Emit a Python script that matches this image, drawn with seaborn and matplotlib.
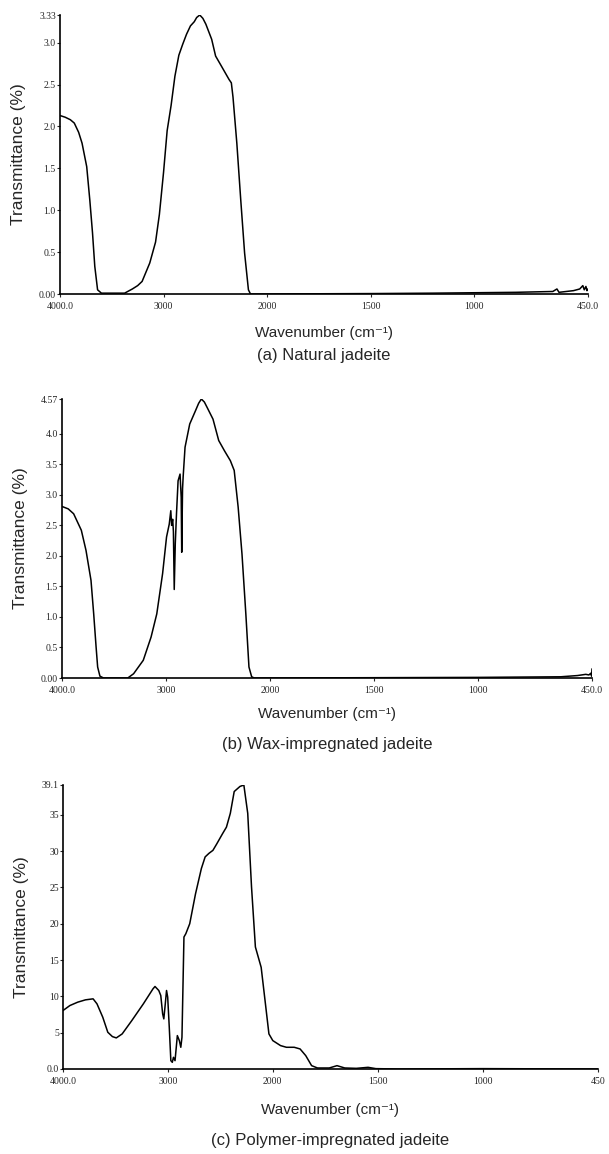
import numpy as np
import pandas as pd
import matplotlib
matplotlib.use("Agg")
import matplotlib.pyplot as plt
import seaborn as sns

# (a) Natural jadeite - wavenumber (cm-1) and transmittance (%)
wn_a = [4000, 3950, 3900, 3862, 3820, 3787, 3742, 3712, 3686, 3664, 3637, 3600,
        3376, 3301, 3250, 3207, 3133, 3077, 3040, 3000, 2965, 2927, 2890, 2852,
        2815, 2778, 2740, 2703, 2680, 2650, 2620, 2591, 2535, 2497, 2441, 2367,
        2345, 2329, 2292, 2254, 2217, 2180, 2160,
        2100, 1500, 1200, 1000, 800, 620, 600, 590, 520, 490, 475, 468, 460, 455, 450]
tr_a = [2.13, 2.11, 2.08, 2.04, 1.93, 1.80, 1.52, 1.12, 0.73, 0.33, 0.05, 0.01,
        0.01, 0.06, 0.10, 0.15, 0.37, 0.62, 0.95, 1.45, 1.95, 2.25, 2.60, 2.85,
        2.98, 3.10, 3.20, 3.25, 3.30, 3.33, 3.29, 3.22, 3.04, 2.84, 2.72, 2.56,
        2.52, 2.35, 1.80, 1.12, 0.49, 0.05, 0.0,
        0.0, 0.005, 0.01, 0.015, 0.02, 0.03, 0.06, 0.02, 0.04, 0.06, 0.10, 0.05, 0.09, 0.04, 0.06]

# (b) Wax-impregnated jadeite
wn_b = [4000, 3940, 3888, 3814, 3769, 3721, 3695, 3672, 3657, 3635, 3600, 3367,
        3311, 3218, 3143, 3088, 3032, 2994, 2968, 2953, 2945, 2935, 2928, 2920,
        2910, 2898, 2883, 2864, 2853, 2848, 2840, 2834, 2816, 2771, 2715, 2685,
        2659, 2630, 2603, 2547, 2492, 2436, 2380, 2343, 2305, 2268, 2231, 2201,
        2175, 2150, 1500, 1000, 600, 520, 480, 465, 455, 452, 450]
tr_b = [2.81, 2.77, 2.69, 2.42, 2.09, 1.60, 1.05, 0.51, 0.18, 0.03, 0.0, 0.0,
        0.07, 0.29, 0.67, 1.05, 1.71, 2.31, 2.52, 2.74, 2.50, 2.60, 2.40, 1.45,
        2.20, 2.70, 3.23, 3.34, 2.96, 2.06, 3.10, 3.30, 3.78, 4.16, 4.38, 4.50,
        4.57, 4.52, 4.43, 4.24, 3.89, 3.72, 3.56, 3.40, 2.80, 2.03, 1.05, 0.18,
        0.02, 0.0, 0.005, 0.01, 0.02, 0.04, 0.06, 0.05, 0.08, 0.03, 0.15]

# (c) Polymer-impregnated jadeite
wn_c = [4000, 3934, 3860, 3786, 3713, 3676, 3621, 3573, 3529, 3492, 3436, 3344,
        3234, 3142, 3123, 3087, 3068, 3050, 3039, 3028, 3013, 3002, 2987, 2972,
        2958, 2947, 2932, 2910, 2891, 2877, 2866, 2847, 2829, 2792, 2737, 2681,
        2645, 2608, 2571, 2534, 2479, 2442, 2405, 2368, 2313, 2276, 2239, 2203,
        2166, 2111, 2074, 2037, 2000, 1963, 1935, 1898, 1870, 1843, 1815, 1787,
        1731, 1694, 1657, 1602, 1546, 1509, 1400, 1000, 450]
tr_c = [8.05, 8.74, 9.2, 9.52, 9.66, 8.97, 7.13, 5.06, 4.46, 4.28, 4.83, 6.67,
        8.97, 11.04, 11.36, 10.81, 10.12, 7.59, 6.9, 8.51, 10.81, 9.89, 5.75, 1.15,
        0.92, 1.61, 1.15, 4.6, 3.91, 2.99, 4.37, 18.17, 18.63, 20.0, 24.1, 27.6,
        29.2, 29.7, 30.1, 31.0, 32.4, 33.3, 35.2, 38.2, 38.9, 39.1, 35.2, 25.1,
        16.8, 14.0, 9.43, 4.83, 3.91, 3.22, 2.99, 2.99, 2.76, 1.84, 0.46, 0.14,
        0.14, 0.46, 0.14, 0.09, 0.23, 0.05, 0.0, 0.05, 0.0]

x_ticks = [4000, 3000, 2000, 1500, 1000, 450]
x_labels_a = ["4000.0", "3000", "2000", "1500", "1000", "450.0"]
x_labels_b = ["4000.0", "3000", "2000", "1500", "1000", "450.0"]
x_labels_c = ["4000.0", "3000", "2000", "1500", "1000", "450"]

y_ticks_a = [0, 0.5, 1.0, 1.5, 2.0, 2.5, 3.0, 3.33]
y_labels_a = ["0.00", "0.5", "1.0", "1.5", "2.0", "2.5", "3.0", "3.33"]
y_ticks_b = [0, 0.5, 1.0, 1.5, 2.0, 2.5, 3.0, 3.5, 4.0, 4.57]
y_labels_b = ["0.00", "0.5", "1.0", "1.5", "2.0", "2.5", "3.0", "3.5", "4.0", "4.57"]
y_ticks_c = [0, 5, 10, 15, 20, 25, 30, 35, 39.1]
y_labels_c = ["0.0", "5", "10", "15", "20", "25", "30", "35", "39.1"]

captions = ["(a) Natural jadeite", "(b) Wax-impregnated jadeite",
            "(c) Polymer-impregnated jadeite"]

sns.set_style("ticks")
plt.rcParams["font.family"] = ["Liberation Sans", "DejaVu Sans"]


# spectrometer scale: region below 2000 cm-1 is expanded two times
def fwd(w):
    w = np.asarray(w, dtype=float)
    return np.where(w >= 2000, w, 2 * w - 2000)


def inv(u):
    u = np.asarray(u, dtype=float)
    return np.where(u >= 2000, u, (u + 2000) / 2)


W, H = 609, 1154
fig = plt.figure(figsize=(W / 100, H / 100), dpi=100)

# pixel boxes: left, right, top, bottom, xlabel y, caption y
boxes = [
    (60, 588, 15, 294, 333, 355),
    (62, 592, 399, 678, 714, 745),
    (63, 598, 785, 1069, 1110, 1141),
]
series = [
    (wn_a, tr_a, x_labels_a, y_ticks_a, y_labels_a),
    (wn_b, tr_b, x_labels_b, y_ticks_b, y_labels_b),
    (wn_c, tr_c, x_labels_c, y_ticks_c, y_labels_c),
]

for (l, r, t, b, xl_y, cap_y), (wn, tr, xlab, yt, ylab), cap in zip(boxes, series, captions):
    ax = fig.add_axes([l / W, 1 - b / H, (r - l) / W, (b - t) / H])
    df = pd.DataFrame({"wn": wn, "tr": tr})
    sns.lineplot(data=df, x="wn", y="tr", ax=ax, color="black", lw=1.1,
                 sort=False, estimator=None)
    ax.set_xscale("function", functions=(fwd, inv))
    ax.set_xlim(4000, 450)
    ax.set_ylim(0, yt[-1])
    ax.set_xticks(x_ticks)
    ax.set_xticklabels(xlab, family="Liberation Serif", fontsize=7)
    ax.set_yticks(yt)
    ax.set_yticklabels(ylab, family="Liberation Serif", fontsize=7)
    ax.minorticks_off()
    ax.tick_params(axis="x", direction="out", length=2.5, width=0.8, pad=3)
    ax.tick_params(axis="y", direction="out", length=2, width=0.8, pad=1)
    sns.despine(ax=ax)
    for s in ["left", "bottom"]:
        ax.spines[s].set_linewidth(1.2)
        ax.spines[s].set_color("black")
    ax.set_xlabel("")
    ax.set_ylabel("Transmittance (%)", fontsize=12.5, labelpad=9)
    fig.text((l + r) / 2 / W, 1 - xl_y / H, "Wavenumber (cm⁻¹)", fontsize=11,
             ha="center", va="center")
    fig.text((l + r) / 2 / W, 1 - cap_y / H, cap, fontsize=12,
             ha="center", va="center")

plt.savefig("out.png", dpi=100)
